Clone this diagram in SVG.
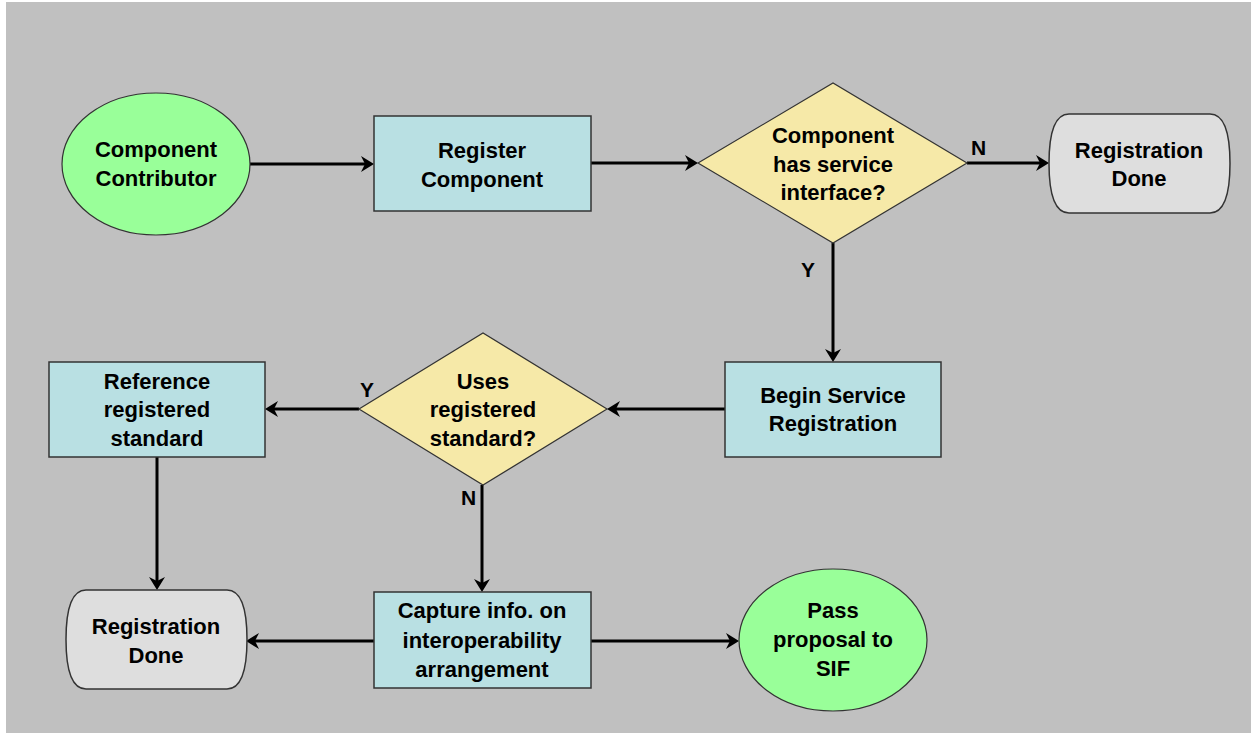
<svg xmlns="http://www.w3.org/2000/svg" width="1251" height="733" viewBox="0 0 1251 733">
<style>
  .t { font-family: "Liberation Sans", Arial, sans-serif; font-weight: bold; font-size: 22px; fill: #000; text-anchor: middle; }
  .lbl { font-family: "Liberation Sans", Arial, sans-serif; font-weight: bold; font-size: 21px; fill: #000; }
  .oval { fill: #99FF99; stroke: #333; stroke-width: 1.2; }
  .box { fill: #B9E0E3; stroke: #333; stroke-width: 1.5; }
  .dia { fill: #F6E9A8; stroke: #333; stroke-width: 1.2; }
  .term { fill: #DEDEDE; stroke: #333; stroke-width: 1.5; }
  .conn { fill: none; stroke: #000; stroke-width: 3; marker-end: url(#ah); }
</style>
<defs>
  <marker id="ah" markerUnits="userSpaceOnUse" viewBox="-15 -10 16 20" markerWidth="16" markerHeight="20" refX="-6" refY="0" orient="auto">
    <path d="M0,0 L-13,-8 L-9,0 L-13,8 Z" fill="#000"/>
  </marker>
  <path id="termShape" d="M20,0 H161 C179,0 181,30 181,49.5 C181,69 179,99 161,99 H20 C2,99 0,69 0,49.5 C0,30 2,0 20,0 Z"/>
</defs>
<rect x="6" y="2" width="1245" height="731" fill="#C0C0C0"/>

<g id="connectors">
  <path class="conn" d="M250,164 H368"/>
  <path class="conn" d="M591,163 H692"/>
  <path class="conn" d="M967,163 H1043"/>
  <path class="conn" d="M833,243 V356"/>
  <path class="conn" d="M725,409 H613"/>
  <path class="conn" d="M359,409 H271"/>
  <path class="conn" d="M157,457 V584"/>
  <path class="conn" d="M482,485 V586"/>
  <path class="conn" d="M374,641 H252"/>
  <path class="conn" d="M591,641 H733"/>
  <text class="lbl" x="971" y="155">N</text>
  <text class="lbl" x="801" y="277">Y</text>
  <text class="lbl" x="360" y="397">Y</text>
  <text class="lbl" x="461" y="505">N</text>
</g>

<g id="component-contributor">
  <ellipse class="oval" cx="156" cy="164" rx="94" ry="71"/>
  <text class="t" x="156" y="157">Component</text>
  <text class="t" x="156" y="186">Contributor</text>
</g>

<g id="register-component">
  <rect class="box" x="374" y="116" width="217" height="95"/>
  <text class="t" x="482" y="158">Register</text>
  <text class="t" x="482" y="187">Component</text>
</g>

<g id="has-service-interface">
  <polygon class="dia" points="698,163 833,83 967,163 833,243"/>
  <text class="t" x="833" y="143">Component</text>
  <text class="t" x="833" y="172">has service</text>
  <text class="t" x="833" y="200">interface?</text>
</g>

<g id="registration-done-1">
  <use href="#termShape" class="term" transform="translate(1049,114)"/>
  <text class="t" x="1139" y="158">Registration</text>
  <text class="t" x="1139" y="186">Done</text>
</g>

<g id="begin-service-registration">
  <rect class="box" x="725" y="362" width="216" height="95"/>
  <text class="t" x="833" y="403">Begin Service</text>
  <text class="t" x="833" y="431">Registration</text>
</g>

<g id="uses-registered-standard">
  <polygon class="dia" points="359,409 483,333 607,409 483,485"/>
  <text class="t" x="483" y="389">Uses</text>
  <text class="t" x="483" y="417">registered</text>
  <text class="t" x="483" y="446">standard?</text>
</g>

<g id="reference-registered-standard">
  <rect class="box" x="49" y="362" width="216" height="95"/>
  <text class="t" x="157" y="389">Reference</text>
  <text class="t" x="157" y="417">registered</text>
  <text class="t" x="157" y="446">standard</text>
</g>

<g id="registration-done-2">
  <use href="#termShape" class="term" transform="translate(66,590)"/>
  <text class="t" x="156" y="634">Registration</text>
  <text class="t" x="156" y="663">Done</text>
</g>

<g id="capture-info">
  <rect class="box" x="374" y="592" width="217" height="96"/>
  <text class="t" x="482" y="618">Capture info. on</text>
  <text class="t" x="482" y="648">interoperability</text>
  <text class="t" x="482" y="677">arrangement</text>
</g>

<g id="pass-proposal">
  <ellipse class="oval" cx="833" cy="640" rx="94" ry="71"/>
  <text class="t" x="833" y="618">Pass</text>
  <text class="t" x="833" y="647">proposal to</text>
  <text class="t" x="833" y="676">SIF</text>
</g>
</svg>
